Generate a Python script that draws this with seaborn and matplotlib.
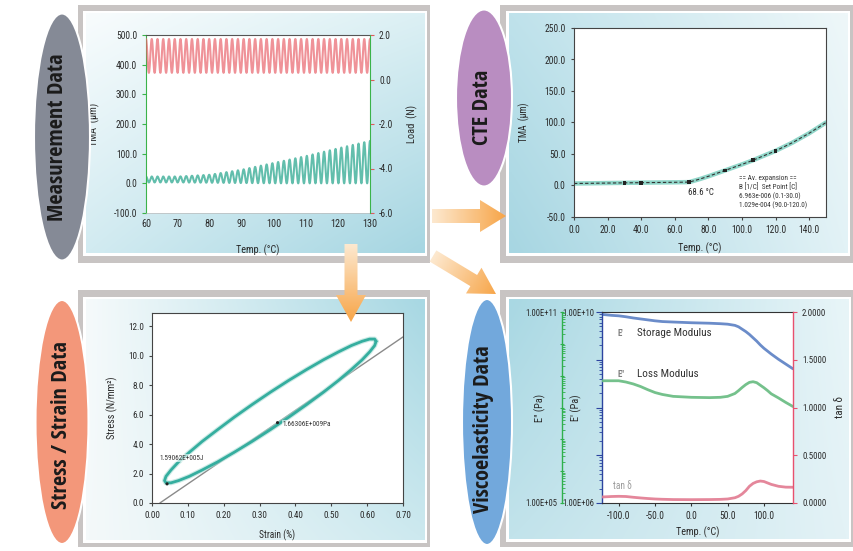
import numpy as np
import matplotlib
matplotlib.use("Agg")
import matplotlib.pyplot as plt
import matplotlib.colors as mcolors
import matplotlib.font_manager as fm
import matplotlib.patheffects as pe
from matplotlib.font_manager import FontProperties
from matplotlib.textpath import TextPath
from matplotlib.patches import Rectangle, Ellipse, Polygon
from matplotlib.ticker import FormatStrFormatter, FuncFormatter, LogLocator, NullFormatter
import seaborn as sns

# ---------------- data ----------------
# Dynamic TMA run: envelopes of the oscillating displacement and load
meas_env_temp = [60, 70, 80, 90, 100, 110, 120, 130]
meas_tma_max = [23, 23, 29, 46, 69, 92, 118, 143]
meas_tma_min = [3, 3, 2, 1, 0, 0, 0, 0]
meas_load_max = [1.82, 1.82, 1.82, 1.82, 1.82, 1.82, 1.82, 1.82]
meas_load_min = [0.30, 0.30, 0.30, 0.30, 0.30, 0.30, 0.30, 0.30]
meas_cycles = 39

# CTE curve with analysis points
cte_temp = [0, 10, 20, 30, 40, 50, 60, 68.6, 75, 80, 90, 100, 106.5, 110, 120, 130, 140, 150]
cte_tma = [3.2, 3.5, 3.9, 4.2, 4.5, 4.8, 5.1, 5.4, 10.3, 14.6, 24, 33.5, 40, 44, 55, 68, 83, 100]
cte_mark_temp = [30, 40, 68.6, 90, 106.5, 120]
cte_mark_tma = [4.2, 4.5, 5.4, 24, 40, 55]
cte_onset = 68.6
cte_table = ["== Av. expansion ==", "B [1/C]  Set Point [C]",
             "6.963e-006 (0.1-30.0)", "1.029e-004 (90.0-120.0)"]

# Stress / strain hysteresis loop
ss_strain = [0.625, 0.621, 0.607, 0.586, 0.556, 0.520, 0.478, 0.431, 0.381, 0.330,
             0.279, 0.229, 0.183, 0.140, 0.104, 0.074, 0.053, 0.039, 0.035, 0.039,
             0.053, 0.074, 0.104, 0.140, 0.183, 0.229, 0.279, 0.330, 0.381, 0.431,
             0.478, 0.520, 0.556, 0.586, 0.607, 0.621]
ss_stress = [10.98, 11.13, 11.13, 10.98, 10.69, 10.26, 9.72, 9.06, 8.32, 7.52,
             6.68, 5.82, 4.98, 4.18, 3.44, 2.79, 2.24, 1.81, 1.52, 1.37,
             1.37, 1.52, 1.81, 2.24, 2.79, 3.44, 4.18, 4.98, 5.82, 6.68,
             7.52, 8.32, 9.06, 9.72, 10.26, 10.69]
ss_modulus_pa = 1.66306e9
ss_strain_zero = 0.022
ss_energy = "1.59062E+005J"
ss_modulus_label = "1.66306E+009Pa"
ss_mark_strain = 0.35

# DMA temperature sweep
dma_temp = [-123, -110, -100, -90, -80, -70, -60, -50, -40, -25, 0, 25, 40, 50, 60,
            65, 70, 75, 80, 85, 90, 95, 100, 105, 110, 120, 130, 140]
dma_log_storage = [9.95, 9.93, 9.92, 9.90, 9.875, 9.855, 9.835, 9.815, 9.80, 9.79, 9.775,
                   9.765, 9.755, 9.745, 9.72, 9.69, 9.64, 9.59, 9.53, 9.46, 9.39, 9.31,
                   9.24, 9.18, 9.12, 9.01, 8.91, 8.81]
dma_log_loss = [8.84, 8.84, 8.84, 8.80, 8.74, 8.66, 8.56, 8.47, 8.41, 8.35, 8.32, 8.31,
                8.32, 8.35, 8.44, 8.53, 8.63, 8.72, 8.79, 8.81, 8.78, 8.70, 8.62, 8.53,
                8.43, 8.30, 8.16, 8.03]
dma_tan_delta = [0.063, 0.068, 0.070, 0.068, 0.060, 0.053, 0.047, 0.042, 0.039, 0.036,
                 0.035, 0.036, 0.038, 0.042, 0.055, 0.070, 0.095, 0.130, 0.175, 0.205,
                 0.222, 0.230, 0.225, 0.210, 0.195, 0.175, 0.166, 0.165]

badge_labels = ["Measurement Data", "CTE Data", "Stress / Strain Data", "Viscoelasticity Data"]

# ---------------- fonts ----------------
sns.set_style("ticks")

WEIGHTS = {"ultralight": 200, "light": 300, "normal": 400, "regular": 400, "book": 400,
           "medium": 500, "roman": 400, "semibold": 600, "demibold": 600, "demi": 600,
           "bold": 700, "heavy": 800, "extra bold": 800, "black": 900}
SANS_KEYS = ("Liberation Sans", "DejaVu Sans", "Noto Sans", "Roboto", "Open Sans", "Lato",
             "Inter", "Arial", "Helvetica")


def _weight(f):
    w = f.weight
    return w if isinstance(w, (int, float)) else WEIGHTS.get(str(w).lower(), 400)


def _shape(fname, text):
    """width of text and width/cap-height ratio for one font file (size 1)"""
    try:
        prop = FontProperties(fname=fname)
        w = TextPath((0, 0), text, size=100, prop=prop).get_extents().width
        h = TextPath((0, 0), "H", size=100, prop=prop).get_extents().height
        return w / 100.0, w / h
    except Exception:
        return None


sans_faces = [f for f in fm.fontManager.ttflist
              if f.name.startswith(SANS_KEYS) and "Mono" not in f.name and "CJK" not in f.name
              and f.style == "normal"]


def _best(faces, text, target_ratio):
    scored = []
    for f in faces:
        r = _shape(f.fname, text)
        if r:
            scored.append((abs(r[1] - target_ratio), f, r[0]))
    scored.sort(key=lambda e: e[0])
    return (scored[0][1], scored[0][2]) if scored else (None, None)


bold_face, bold_em = _best([f for f in sans_faces if _weight(f) >= 650], badge_labels[0], 9.9)
reg_face, reg_em = _best([f for f in sans_faces if 380 <= _weight(f) <= 450],
                         "Storage Modulus", 8.7)

if reg_face is not None:
    plt.rcParams["font.family"] = [reg_face.name, "DejaVu Sans"]
    plt.rcParams["font.stretch"] = reg_face.stretch
    K_TXT = 6.2 / reg_em
else:
    plt.rcParams["font.family"] = ["DejaVu Sans"]
    K_TXT = 0.8
plt.rcParams["axes.linewidth"] = 0.8
TXT = "#2a2a2a"

# badge text sized so that the longest title spans ~165 px
if bold_face is not None:
    BADGE_PROP = FontProperties(fname=bold_face.fname, size=165 / bold_em * 0.72)
else:
    BADGE_PROP = FontProperties(family="DejaVu Sans", weight="bold", size=12)


def fs(v):
    return v * K_TXT


W, H = 854, 551
fig = plt.figure(figsize=(W / 100, H / 100), dpi=100)
fig.patch.set_facecolor("white")


def px_axes(l, t, r, b):
    return fig.add_axes([l / W, 1 - b / H, (r - l) / W, (b - t) / H])


def rgb(c):
    return np.array(mcolors.to_rgb(c))


def gradient_box(ax, x0, y0, x1, y1, tl, tr, bl, br, zorder=1):
    u = np.linspace(0, 1, 64)
    U, V = np.meshgrid(u, u)
    img = (((1 - U) * (1 - V))[..., None] * rgb(tl) + (U * (1 - V))[..., None] * rgb(tr)
           + ((1 - U) * V)[..., None] * rgb(bl) + (U * V)[..., None] * rgb(br))
    ax.imshow(img, extent=(x0, x1, y1, y0), origin="upper", aspect="auto",
              interpolation="bilinear", zorder=zorder)


# ---------------- background panels ----------------
bg = px_axes(0, 0, W, H)
bg.axis("off")
FRAME = "#c8c4c3"
panels = [
    ((78, 5, 430, 263), (86, 13, 425, 253), ("#f8fcfd", "#dcf0f4", "#d2ebf1", "#a6d6e2")),
    ((500, 5, 856, 263), (509, 13, 848, 253), ("#bfe2eb", "#eef7f9", "#a7d6e2", "#e2f2f6")),
    ((78, 290, 430, 547), (86, 299, 425, 540), ("#f5fafb", "#a8d8e3", "#f4f9fa", "#cde9ef")),
    ((500, 290, 856, 547), (509, 299, 849, 539), ("#a9d8e3", "#e8f5f8", "#c2e3eb", "#e3f2f6")),
]
for (ox0, oy0, ox1, oy1), (ix0, iy0, ix1, iy1), cols in panels:
    bg.add_patch(Rectangle((ox0, oy0), ox1 - ox0, oy1 - oy0, fc=FRAME, ec="none", zorder=0))
    bg.add_patch(Rectangle((ix0 - 2.5, iy0 - 2.5), ix1 - ix0 + 5, iy1 - iy0 + 5,
                           fc="white", ec="none", zorder=0.5))
    gradient_box(bg, ix0, iy0, ix1, iy1, *cols)
bg.set_xlim(0, W)
bg.set_ylim(H, 0)

# ---------------- measurement data ----------------
GREEN = "#3bb34a"
ax1 = px_axes(146, 35, 370, 213)
ax1.set_facecolor("white")
t = np.linspace(60, 130, meas_cycles * 40 + 1)
wave = 0.5 + 0.5 * np.cos(2 * np.pi * meas_cycles * (t - 60) / 70)
tma_hi = np.interp(t, meas_env_temp, meas_tma_max)
tma_lo = np.interp(t, meas_env_temp, meas_tma_min)
load_hi = np.interp(t, meas_env_temp, meas_load_max)
load_lo = np.interp(t, meas_env_temp, meas_load_min)
tma_sig = tma_lo + (tma_hi - tma_lo) * wave
load_sig = load_lo + (load_hi - load_lo) * wave

sns.lineplot(x=t, y=tma_sig, ax=ax1, color="#2ea891", linewidth=1.5, alpha=0.75, estimator=None)
ax1.set_xlim(60, 130)
ax1.set_ylim(-100, 500)
ax1.set_yticks(np.arange(-100, 501, 100))
ax1.set_xticks(np.arange(60, 131, 10))
ax1.yaxis.set_major_formatter(FormatStrFormatter("%.1f"))
ax1r = ax1.twinx()
sns.lineplot(x=t, y=load_sig, ax=ax1r, color="#e9646c", linewidth=1.5, alpha=0.7, estimator=None)
ax1r.set_ylim(-6, 2)
ax1r.set_yticks(np.arange(-6, 2.1, 2))
ax1r.yaxis.set_major_formatter(FormatStrFormatter("%.1f"))
ax1.spines["left"].set_color(GREEN)
ax1.spines["top"].set_color("#555555")
ax1.spines["bottom"].set_color("#bbbbbb")
ax1.spines["bottom"].set_linewidth(0.5)
ax1.spines["right"].set_visible(False)
for s in ("left", "top", "bottom"):
    ax1r.spines[s].set_visible(False)
ax1r.spines["right"].set_color(GREEN)
ax1.tick_params(axis="y", colors=GREEN, labelcolor=TXT, length=3, labelsize=fs(7.3))
ax1.tick_params(axis="x", length=0, pad=4, labelcolor=TXT, labelsize=fs(7.8))
ax1r.tick_params(axis="y", colors="#e05a5a", labelcolor=TXT, length=3, labelsize=fs(7.3))
ax1.set_xlabel("Temp. (°C)", fontsize=fs(7.8), color=TXT)
ax1.xaxis.set_label_coords(0.5, -0.175)
ax1.set_ylabel("TMA  (μm)", fontsize=fs(8), color=TXT)
ax1.yaxis.set_label_coords(-0.205, 0.5)
ax1r.set_ylabel("Load  (N)", fontsize=fs(8), color=TXT)
ax1r.yaxis.set_label_coords(1.165, 0.5)

# ---------------- CTE data ----------------
ax2 = px_axes(574, 28, 826, 217)
ax2.set_facecolor("white")
sns.lineplot(x=cte_temp, y=cte_tma, ax=ax2, color="#6cc9b8", linewidth=3.2, alpha=0.75,
             estimator=None)
sns.lineplot(x=cte_temp, y=cte_tma, ax=ax2, color="#333333", linewidth=0.8,
             linestyle=(0, (3, 2)), estimator=None)
sns.scatterplot(x=cte_mark_temp, y=cte_mark_tma, ax=ax2, marker="s", s=7, color="#222222",
                edgecolor="none", zorder=5)
ax2.set_xlim(0, 150)
ax2.set_ylim(-50, 250)
ax2.set_xticks(np.arange(0, 141, 20))
ax2.set_yticks(np.arange(-50, 251, 50))
ax2.xaxis.set_major_formatter(FormatStrFormatter("%.1f"))
ax2.yaxis.set_major_formatter(FormatStrFormatter("%.1f"))
for s in ax2.spines.values():
    s.set_color("#444444")
ax2.tick_params(length=2.5, labelsize=fs(7.3), labelcolor=TXT, color="#444444")
ax2.set_xlabel("Temp. (°C)", fontsize=fs(7.8), color=TXT)
ax2.xaxis.set_label_coords(0.5, -0.135)
ax2.set_ylabel("TMA  (μm)", fontsize=fs(7.3), color=TXT)
ax2.yaxis.set_label_coords(-0.175, 0.5)
ax2.text(cte_onset - 1, -11, f"{cte_onset} °C", fontsize=fs(6.8), color=TXT, va="center")
for i, line in enumerate(cte_table):
    ax2.text(0.655, 0.205 - i * 0.048, line, transform=ax2.transAxes, fontsize=fs(5.6),
             color="#333333", va="center")

# ---------------- stress / strain data ----------------
ax3 = px_axes(152, 313, 403, 503)
ax3.set_facecolor("white")
fit_strain = np.array([ss_strain_zero, 0.70])
fit_stress = ss_modulus_pa / 1e6 * (fit_strain - ss_strain_zero) / 100
sns.lineplot(x=fit_strain, y=fit_stress, ax=ax3, color="#8a8a8a", linewidth=1.0, estimator=None)
sns.lineplot(x=ss_strain + ss_strain[:1], y=ss_stress + ss_stress[:1], ax=ax3, sort=False,
             color="#35ae9f", linewidth=2.0, estimator=None)
ax3.lines[-1].set_path_effects([pe.Stroke(linewidth=3.6, foreground="#a8ddd5", alpha=0.6),
                                pe.Normal()])
mark_stress = ss_modulus_pa / 1e6 * (ss_mark_strain - ss_strain_zero) / 100
sns.scatterplot(x=[ss_mark_strain, 0.042], y=[mark_stress, 1.3], ax=ax3, s=5, color="#222222",
                edgecolor="none", zorder=6)
ax3.text(ss_mark_strain + 0.015, mark_stress - 0.1, ss_modulus_label, fontsize=fs(5.6),
         color="#333333", va="center", bbox=dict(fc="white", ec="none", alpha=0.6, pad=0.5))
ax3.text(0.02, 3.05, ss_energy, fontsize=fs(5.6), color="#333333", va="center",
         bbox=dict(fc="white", ec="none", alpha=0.6, pad=0.5))
ax3.set_xlim(0, 0.70)
ax3.set_ylim(0, 12.9)
ax3.set_xticks(np.arange(0, 0.701, 0.1))
ax3.set_yticks(np.arange(0, 12.1, 2))
ax3.xaxis.set_major_formatter(FormatStrFormatter("%.2f"))
ax3.yaxis.set_major_formatter(FormatStrFormatter("%.1f"))
for s in ax3.spines.values():
    s.set_color("#444444")
ax3.tick_params(length=2.5, labelsize=fs(7), labelcolor=TXT, color="#444444")
ax3.set_xlabel("Strain (%)", fontsize=fs(7.3), color=TXT)
ax3.xaxis.set_label_coords(0.5, -0.14)
ax3.set_ylabel("Stress (N/mm²)", fontsize=fs(7.8), color=TXT)
ax3.yaxis.set_label_coords(-0.135, 0.5)

# ---------------- viscoelasticity data ----------------
BLUE, GRN2, PINK = "#2c44a0", "#2fb04c", "#e8506e"


def ends_only(lo, hi):
    return FuncFormatter(lambda v, p: f"{v:.2E}" if np.isclose(v, lo) or np.isclose(v, hi) else "")


ax4 = px_axes(602, 312, 793, 503)
ax4.set_facecolor("white")
sns.lineplot(x=dma_temp, y=10 ** np.array(dma_log_storage), ax=ax4, color="#5b80c4",
             linewidth=2.0, alpha=0.9, estimator=None)
ax4.set_yscale("log")
ax4.set_ylim(1e6, 1e10)
ax4.set_xlim(-123, 140)
ax4.set_xticks([-100, -50, 0, 50, 100])
ax4.xaxis.set_major_formatter(FormatStrFormatter("%.1f"))
ax4.yaxis.set_major_locator(LogLocator(base=10, numticks=20))
ax4.yaxis.set_minor_locator(LogLocator(base=10, subs=np.arange(2, 10), numticks=20))
ax4.yaxis.set_major_formatter(ends_only(1e6, 1e10))
ax4.yaxis.set_minor_formatter(NullFormatter())
ax4.spines["left"].set_color(BLUE)
ax4.spines["left"].set_linewidth(1.0)
ax4.spines["right"].set_visible(False)
ax4.spines["top"].set_color("#333333")
ax4.spines["bottom"].set_color("#333333")
ax4.tick_params(axis="y", which="major", colors=BLUE, labelcolor=TXT, length=4, pad=1.5,
                labelsize=fs(6.6))
ax4.tick_params(axis="y", which="minor", colors=BLUE, length=2)
ax4.tick_params(axis="x", length=2.5, labelsize=fs(7.3), labelcolor=TXT, color="#333333")
ax4.set_xlabel("Temp. (°C)", fontsize=fs(7.8), color=TXT)
ax4.xaxis.set_label_coords(0.5, -0.125)
ax4.set_ylabel("E' (Pa)", fontsize=fs(8), color=TXT)
ax4.yaxis.set_label_coords(-0.105, 0.5)

ax4g = ax4.twinx()
sns.lineplot(x=dma_temp, y=10 ** np.array(dma_log_loss), ax=ax4g, color="#66bb80",
             linewidth=2.0, alpha=0.9, estimator=None)
ax4g.set_yscale("log")
ax4g.set_ylim(1e5, 1e11)
ax4g.yaxis.tick_left()
ax4g.yaxis.set_label_position("left")
for s in ("right", "top", "bottom"):
    ax4g.spines[s].set_visible(False)
ax4g.spines["left"].set_visible(True)
ax4g.spines["left"].set_position(("axes", -40 / 191))
ax4g.spines["left"].set_color(GRN2)
ax4g.spines["left"].set_linewidth(1.0)
ax4g.yaxis.set_major_locator(LogLocator(base=10, numticks=20))
ax4g.yaxis.set_minor_locator(LogLocator(base=10, subs=np.arange(2, 10), numticks=20))
ax4g.yaxis.set_major_formatter(ends_only(1e5, 1e11))
ax4g.yaxis.set_minor_formatter(NullFormatter())
ax4g.tick_params(axis="y", which="major", colors=GRN2, labelcolor=TXT, length=3.5, pad=1.5,
                 direction="inout", labelsize=fs(6.6))
ax4g.tick_params(axis="y", which="minor", colors=GRN2, length=2, direction="in")
ax4g.set_ylabel('E" (Pa)', fontsize=fs(8), color=TXT)
ax4g.yaxis.set_label_coords(-0.295, 0.5)

ax4t = ax4.twinx()
sns.lineplot(x=dma_temp, y=dma_tan_delta, ax=ax4t, color="#e27a90", linewidth=2.0, alpha=0.9,
             estimator=None)
ax4t.set_ylim(0, 2)
ax4t.set_yticks(np.arange(0, 2.01, 0.5))
ax4t.yaxis.set_major_formatter(FormatStrFormatter("%.4f"))
for s in ("left", "top", "bottom"):
    ax4t.spines[s].set_visible(False)
ax4t.spines["right"].set_color(PINK)
ax4t.spines["right"].set_linewidth(1.0)
ax4t.tick_params(axis="y", colors=PINK, labelcolor=TXT, length=3, labelsize=fs(6.8))
ax4t.set_ylabel("tan δ", fontsize=fs(8.5), color=TXT)
ax4t.yaxis.set_label_coords(1.22, 0.5)
ax4.set_xlim(-123, 140)

ax4t.text(0.083, 0.89, "E'", transform=ax4.transAxes, fontsize=fs(6.8), fontweight="bold",
          color="#808080", va="center")
ax4t.text(0.183, 0.89, "Storage Modulus", transform=ax4.transAxes, fontsize=fs(8.5),
          color="#333333", va="center")
ax4t.text(0.083, 0.675, 'E"', transform=ax4.transAxes, fontsize=fs(6.8), fontweight="bold",
          color="#808080", va="center")
ax4t.text(0.183, 0.675, "Loss Modulus", transform=ax4.transAxes, fontsize=fs(8.5),
          color="#333333", va="center")
ax4t.text(0.058, 0.09, "tan δ", transform=ax4.transAxes, fontsize=fs(7.3), color="#9a9a9a",
          va="center")

# ---------------- arrows and section badges ----------------
ov = px_axes(0, 0, W, H)
ov.set_zorder(20)
ov.patch.set_alpha(0)
ov.axis("off")


def grad_arrow(ax, tail, tip, shaft_hw, head_hw, head_len, c_tail, c_head):
    tail = np.array(tail, float)
    tip = np.array(tip, float)
    d = tip - tail
    L = np.hypot(*d)
    u = d / L
    n = np.array([-u[1], u[0]])
    base = tip - u * head_len
    pts = np.array([tail + n * shaft_hw, base + n * shaft_hw, base + n * head_hw, tip,
                    base - n * head_hw, base - n * shaft_hw, tail - n * shaft_hw])
    poly = Polygon(pts, closed=True, fc="none", ec="none")
    ax.add_patch(poly)
    x0, y0 = pts.min(0) - 1
    x1, y1 = pts.max(0) + 1
    X, Y = np.meshgrid(np.linspace(x0, x1, 120), np.linspace(y0, y1, 120))
    f = np.clip(((X - tail[0]) * u[0] + (Y - tail[1]) * u[1]) / L, 0, 1)
    img = (1 - f)[..., None] * rgb(c_tail) + f[..., None] * rgb(c_head)
    im = ax.imshow(img, extent=(x0, x1, y1, y0), origin="upper", aspect="auto",
                   interpolation="bilinear", zorder=2)
    im.set_clip_path(poly)


ARROW_TAIL, ARROW_HEAD = "#fde9d0", "#f7a548"
grad_arrow(ov, (432, 216), (506, 216), 7, 16, 26, ARROW_TAIL, ARROW_HEAD)
grad_arrow(ov, (351, 244), (351, 322), 6.5, 15, 27, ARROW_TAIL, ARROW_HEAD)
grad_arrow(ov, (433, 256), (496, 294), 6.5, 15, 26, ARROW_TAIL, ARROW_HEAD)

badges = [
    (62, 137, 56, 247, "#858a96", 58, 137),
    (484, 98, 56, 177, "#b98dc1", 483, 107),
    (62, 422, 53, 244, "#f3977a", 62, 425),
    (487, 422, 50, 246, "#72a8dc", 484, 429),
]
for (cx, cy, w, h, col, tx, ty), label in zip(badges, badge_labels):
    ov.add_patch(Ellipse((cx, cy), w, h, fc=col, ec="white", lw=1.5, zorder=3))
    ov.text(tx, ty, label, rotation=90, ha="center", va="center", fontproperties=BADGE_PROP,
            color="#1b1b1b", zorder=4)
ov.set_xlim(0, W)
ov.set_ylim(H, 0)

fig.savefig("out.png", dpi=100)
